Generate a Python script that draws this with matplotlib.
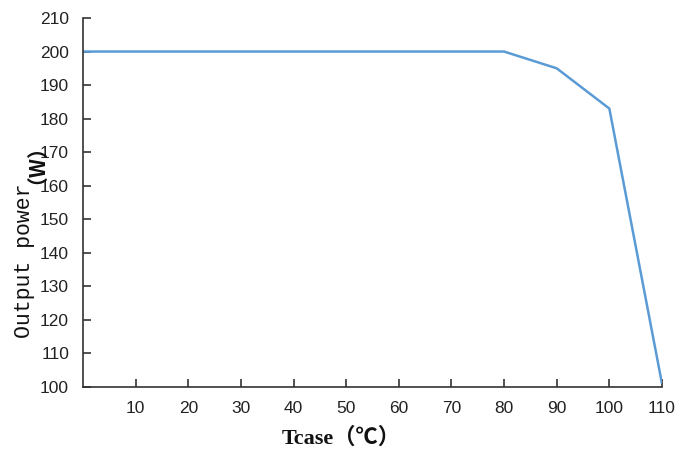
import matplotlib
matplotlib.use("Agg")
import matplotlib.pyplot as plt

# Data
tcase = [0, 80, 90, 100, 110]
power = [200, 200, 195, 183, 101]
x_ticks = [10, 20, 30, 40, 50, 60, 70, 80, 90, 100, 110]
y_ticks = [100, 110, 120, 130, 140, 150, 160, 170, 180, 190, 200, 210]

fig = plt.figure(figsize=(6.95, 4.5), dpi=100)
ax = fig.add_axes([0.1194, 0.14, 0.8331, 0.82])

ax.plot(tcase, power, color="#5B9BD5", linewidth=1.8, solid_capstyle="butt")

ax.set_xlim(0, 110)
ax.set_ylim(100, 210)
ax.set_xticks(x_ticks)
ax.set_yticks(y_ticks)

for s in ["top", "right"]:
    ax.spines[s].set_visible(False)
for s in ["left", "bottom"]:
    ax.spines[s].set_color("#333333")
    ax.spines[s].set_linewidth(1.2)

ax.tick_params(axis="both", direction="in", length=6, width=1.2, color="#333333",
               labelsize=12.5, labelcolor="#222222")
ax.tick_params(axis="x", pad=10)
ax.tick_params(axis="y", pad=10)
for lab in ax.get_xticklabels() + ax.get_yticklabels():
    lab.set_family(["Liberation Sans", "DejaVu Sans"])

# x-axis label
fig.text(282 / 695, 1 - 438 / 450, "Tcase（℃）", ha="left", va="center",
         fontsize=16, fontweight="bold",
         family=["Liberation Serif", "Noto Sans CJK SC", "DejaVu Sans"], color="#111111")

# y-axis label (two pieces: plain + bold unit)
fig.text(25 / 695, 1 - 338 / 450, "Output power", rotation=90, ha="center", va="bottom",
         fontsize=15.5, family=["Liberation Mono", "DejaVu Sans Mono"], color="#111111")
fig.text(26 / 695, 1 - 184 / 450, "（W）", rotation=90, ha="center", va="bottom",
         fontsize=15, fontweight="bold",
         family=["Noto Sans CJK SC", "DejaVu Sans"], color="#111111")

fig.savefig("out.png", dpi=100)
